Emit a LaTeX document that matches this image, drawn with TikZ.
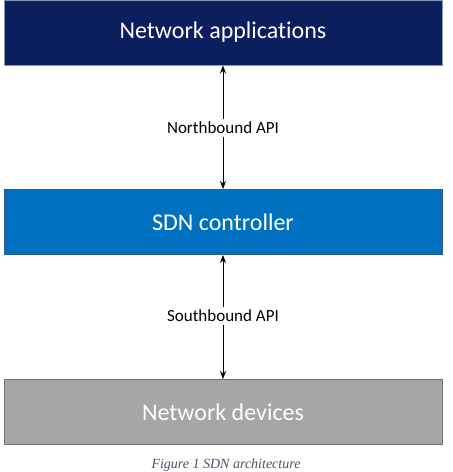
\documentclass[tikz,border=0pt]{standalone}
\usepackage{fontspec}
\setmainfont[Ligatures=NoCommon]{Carlito}
\newfontfamily\capfont{Liberation Serif}
\usetikzlibrary{arrows.meta}
\definecolor{navy}{HTML}{0B1F5E}
\definecolor{navyedge}{HTML}{8A96B4}
\definecolor{ctrlblue}{HTML}{0070C0}
\definecolor{ctrledge}{HTML}{2F5F8F}
\definecolor{devgray}{HTML}{A6A6A6}
\definecolor{devedge}{HTML}{707070}
\definecolor{capblue}{HTML}{44546A}
\begin{document}
\begin{tikzpicture}[x=1pt,y=-1pt,
  layerbox/.style={minimum width=438pt,minimum height=65pt,inner sep=0pt,
    line width=1pt,text=white,font=\fontsize{24}{28}\selectfont},
  apilabel/.style={inner sep=3pt,font=\fontsize{17}{20}\selectfont},
  apiarrow/.style={-{Stealth[length=8pt,width=6pt]},line width=0.7pt,black}]
\useasboundingbox (0,0) rectangle (453,472);
\node[layerbox,fill=navy,draw=navyedge] (apps) at (223,32.5) {Network applications};
\node[layerbox,fill=ctrlblue,draw=ctrledge] (ctrl) at (223,222) {SDN controller};
\node[layerbox,fill=devgray,draw=devedge] (dev) at (223,412) {Network devices};
\node[apilabel] (nb) at (223,128) {Northbound API};
\node[apilabel] (sb) at (223,316) {Southbound API};
\draw[apiarrow] (nb) -- (apps);
\draw[apiarrow] (nb) -- (ctrl);
\draw[apiarrow] (sb) -- (ctrl);
\draw[apiarrow] (sb) -- (dev);
\node[anchor=base,inner sep=0pt,text=capblue,font=\capfont\itshape\fontsize{14}{16}\selectfont] (cap) at (226,468) {Figure 1 SDN architecture};
\end{tikzpicture}
\end{document}
